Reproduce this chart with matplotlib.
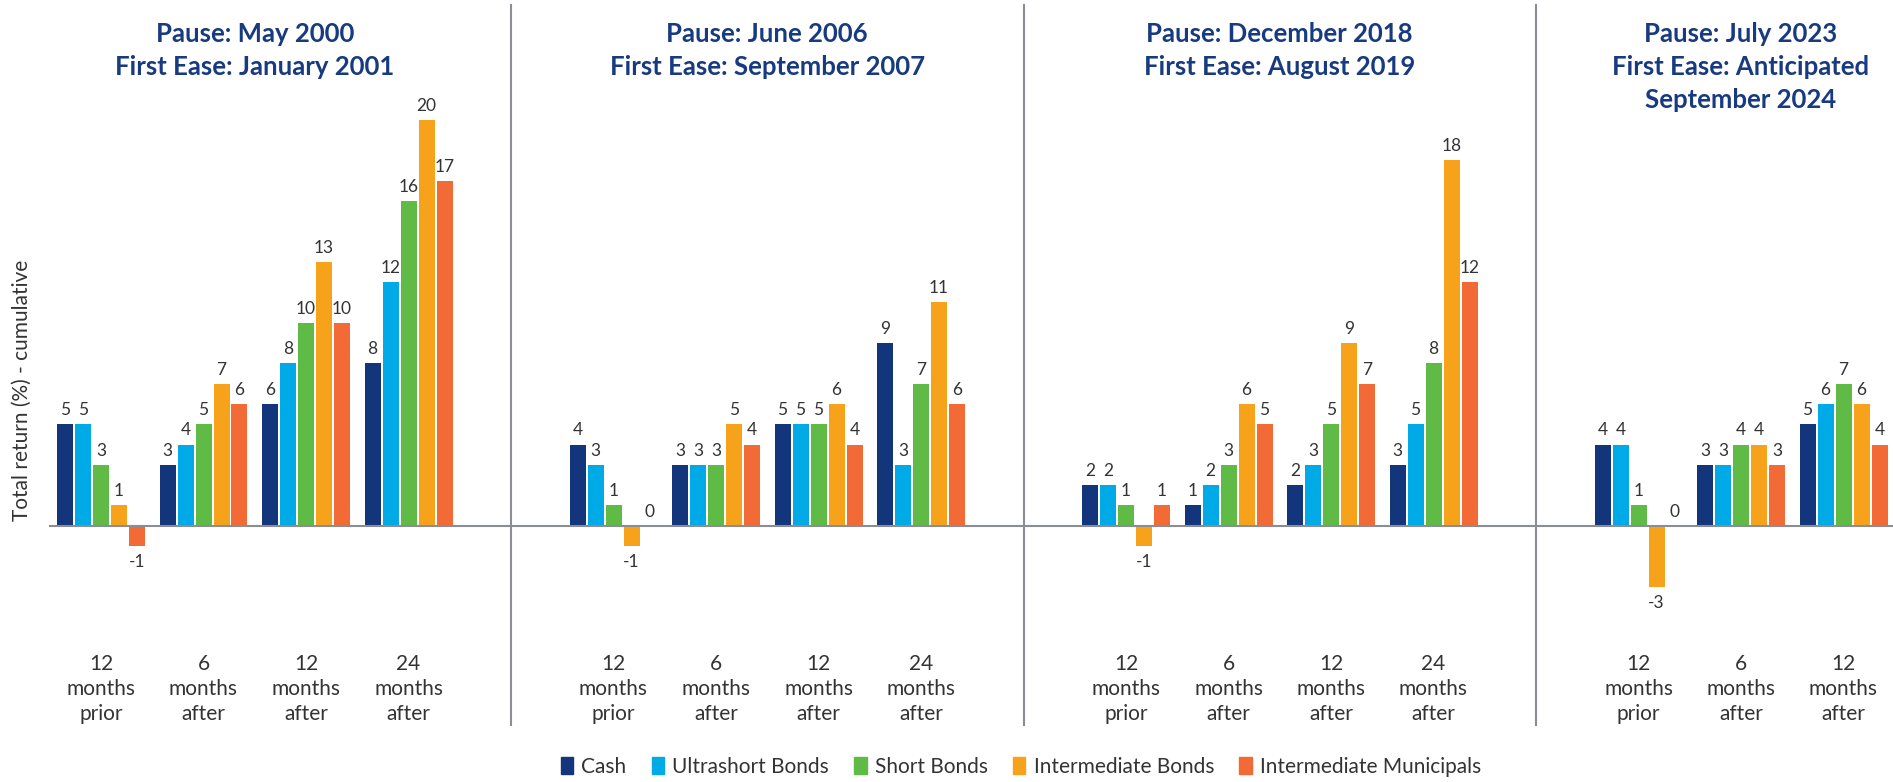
import matplotlib.pyplot as plt
from matplotlib.patches import Patch

plt.rcParams['font.family'] = ['Lato', 'DejaVu Sans']

series = ["Cash", "Ultrashort Bonds", "Short Bonds", "Intermediate Bonds", "Intermediate Municipals"]
colors = ["#12357c", "#00aae7", "#5fba46", "#f7a21b", "#f26a36"]

titles = ["Pause: May 2000\nFirst Ease: January 2001",
          "Pause: June 2006\nFirst Ease: September 2007",
          "Pause: December 2018\nFirst Ease: August 2019",
          "Pause: July 2023\nFirst Ease: Anticipated\nSeptember 2024"]

periods_full = ["12\nmonths\nprior", "6\nmonths\nafter", "12\nmonths\nafter", "24\nmonths\nafter"]
periods_now = ["12\nmonths\nprior", "6\nmonths\nafter", "12\nmonths\nafter"]

# rows = period, cols = series
p2000 = [[5, 5, 3, 1, -1], [3, 4, 5, 7, 6], [6, 8, 10, 13, 10], [8, 12, 16, 20, 17]]
p2006 = [[4, 3, 1, -1, 0], [3, 3, 3, 5, 4], [5, 5, 5, 6, 4], [9, 3, 7, 11, 6]]
p2018 = [[2, 2, 1, -1, 1], [1, 2, 3, 6, 5], [2, 3, 5, 9, 7], [3, 5, 8, 18, 12]]
p2023 = [[4, 4, 1, -3, 0], [3, 3, 4, 4, 3], [5, 6, 7, 6, 4]]

panels = [(p2000, periods_full), (p2006, periods_full), (p2018, periods_full), (p2023, periods_now)]

title_col = "#173a80"
text_col = "#333333"
line_col = "#8a8d91"

fig = plt.figure(figsize=(18.93, 7.82), dpi=100)
ax = fig.add_axes([0, 0, 1, 1])
ax.set_xlim(-101 / 102.5, 1792 / 102.5)
ax.set_ylim((525.7 - 782) / 20.3, 525.7 / 20.3)
ax.axis('off')

slot = 18 / 102.5
bw = 16 / 102.5

ax.plot([-0.5, 17.5], [0, 0], color=line_col, lw=1.5, zorder=3)

for p, (data, periods) in enumerate(panels):
    base = 5 * p
    for g, vals in enumerate(data):
        cx = base + g
        for i, v in enumerate(vals):
            x = cx + (i - 2) * slot
            ax.bar(x, v, width=bw, color=colors[i], zorder=2)
            if v >= 0:
                ax.text(x, v + 0.3, str(v), ha='center', va='bottom', fontsize=12.5, color=text_col)
            else:
                ax.text(x, v - 0.4, str(v), ha='center', va='top', fontsize=12.5, color=text_col)
        ax.text(cx, -8.05, periods[g], ha='center', va='center', fontsize=15,
                color=text_col, linespacing=1.3)
    tx = base + (len(data) - 1) / 2
    ax.text(tx, 24.8, titles[p], ha='center', va='top', fontsize=18.5, fontweight='bold',
            color=title_col, linespacing=1.45)
    if p > 0:
        ax.plot([base - 1, base - 1], [-9.8, 25.65], color=line_col, lw=1.5)

ax.text(-0.77, (525.7 - 390) / 20.3, "Total return (%) - cumulative", rotation=90,
        ha='center', va='center', fontsize=15, color=text_col)

handles = [Patch(color=c, label=s) for c, s in zip(colors, series)]
fig.legend(handles=handles, loc='center', bbox_to_anchor=(1021 / 1893, 1 - 767 / 782),
           ncol=5, frameon=False, fontsize=15, handlelength=0.6, handleheight=0.9,
           handletextpad=0.4, columnspacing=1.2, labelcolor=text_col)

fig.savefig("out.png", dpi=100)
